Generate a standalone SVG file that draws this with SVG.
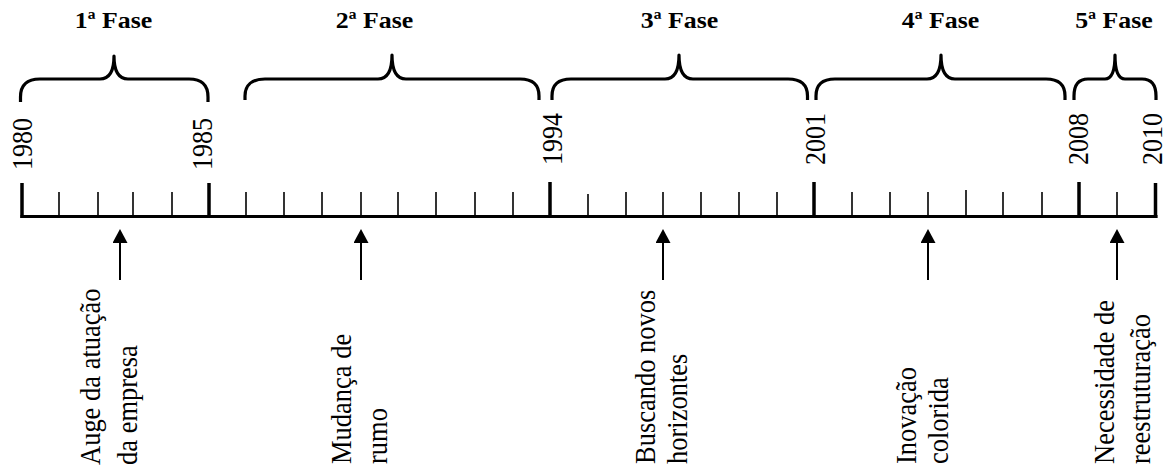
<svg xmlns="http://www.w3.org/2000/svg" width="1168" height="470" viewBox="0 0 1168 470">
  <style>
    .phase { font-family: "Liberation Serif", "Times New Roman", serif; font-weight: bold; font-size: 23.5px; fill: #000; text-anchor: middle; }
    .year { font-family: "Liberation Serif", "Times New Roman", serif; font-size: 26px; fill: #000; }
    .event { font-family: "Liberation Serif", "Times New Roman", serif; font-size: 26.5px; fill: #000; }
    .brace { fill: none; stroke: #000; stroke-width: 3.2; stroke-linecap: butt; stroke-linejoin: round; }
    .axis { fill: none; stroke: #000; stroke-width: 3; }
    .major { stroke: #000; stroke-width: 3.5; }
    .minor { stroke: #000; stroke-width: 1.6; }
    .arrow { stroke: #000; stroke-width: 2; fill: none; }
  </style>
  <defs>
    <marker id="ah" markerUnits="userSpaceOnUse" markerWidth="15" markerHeight="16" refX="0" refY="7.5" orient="auto">
      <path d="M0,0 L14,7.5 L0,15 Z" fill="#000"/>
    </marker>
  </defs>
  <rect width="1168" height="470" fill="#fff"/>

  <g id="timeline">
    <line class="axis" x1="20.5" y1="216.5" x2="1157.5" y2="216.5"/>
    <g id="major-ticks">
      <line class="major" x1="22" y1="183" x2="22" y2="218"/>
      <line class="major" x1="209" y1="183" x2="209" y2="218"/>
      <line class="major" x1="550" y1="182" x2="550" y2="218"/>
      <line class="major" x1="814" y1="182" x2="814" y2="218"/>
      <line class="major" x1="1079" y1="182" x2="1079" y2="218"/>
      <line class="major" x1="1155.5" y1="183" x2="1155.5" y2="218"/>
    </g>
    <g id="minor-ticks">
      <line class="minor" x1="59" y1="192" x2="59" y2="216"/>
      <line class="minor" x1="98" y1="192" x2="98" y2="216"/>
      <line class="minor" x1="133" y1="192" x2="133" y2="216"/>
      <line class="minor" x1="172" y1="192" x2="172" y2="216"/>
      <line class="minor" x1="246" y1="192" x2="246" y2="216"/>
      <line class="minor" x1="284" y1="192" x2="284" y2="216"/>
      <line class="minor" x1="322" y1="192" x2="322" y2="216"/>
      <line class="minor" x1="361" y1="192" x2="361" y2="216"/>
      <line class="minor" x1="398" y1="192" x2="398" y2="216"/>
      <line class="minor" x1="436" y1="192" x2="436" y2="216"/>
      <line class="minor" x1="475" y1="192" x2="475" y2="216"/>
      <line class="minor" x1="513" y1="192" x2="513" y2="216"/>
      <line class="minor" x1="588" y1="194" x2="588" y2="216"/>
      <line class="minor" x1="626" y1="192" x2="626" y2="216"/>
      <line class="minor" x1="663" y1="192" x2="663" y2="216"/>
      <line class="minor" x1="701" y1="192" x2="701" y2="216"/>
      <line class="minor" x1="739" y1="192" x2="739" y2="216"/>
      <line class="minor" x1="777" y1="192" x2="777" y2="216"/>
      <line class="minor" x1="852" y1="192" x2="852" y2="216"/>
      <line class="minor" x1="890" y1="192" x2="890" y2="216"/>
      <line class="minor" x1="928" y1="192" x2="928" y2="216"/>
      <line class="minor" x1="966" y1="190" x2="966" y2="216"/>
      <line class="minor" x1="1003" y1="192" x2="1003" y2="216"/>
      <line class="minor" x1="1042" y1="192" x2="1042" y2="216"/>
      <line class="minor" x1="1117" y1="192" x2="1117" y2="216"/>
    </g>
  </g>

  <g id="years">
    <text id="y1980" class="year" transform="translate(32,170) scale(1.12,1) rotate(-90)">1980</text>
    <text id="y1985" class="year" transform="translate(212,170) scale(1.12,1) rotate(-90)">1985</text>
    <text id="y1994" class="year" transform="translate(561.5,165) scale(1.12,1) rotate(-90)">1994</text>
    <text id="y2001" class="year" transform="translate(825,165) scale(1.12,1) rotate(-90)">2001</text>
    <text id="y2008" class="year" transform="translate(1088,165) scale(1.12,1) rotate(-90)">2008</text>
    <text id="y2010" class="year" transform="translate(1162,165) scale(1.12,1) rotate(-90)">2010</text>
  </g>

  <g id="phase1">
    <path class="brace" d="M20.5,102 L20.5,97 C20.5,85 27,79 40,79 L100,79 Q114,79 114,56 Q114,79 128,79 L189,79 C202,79 208,85 208,97 L208,102"/>
    <text class="phase" transform="translate(113.5,28) scale(1.1,1)">1ª Fase</text>
  </g>
  <g id="phase2">
    <path class="brace" d="M245,100 L245,96 C245,85 252,79 265,79 L378,79 Q392,79 392,55 Q392,79 406,79 L520,79 C533,79 539,85 539,96 L539,100"/>
    <text class="phase" transform="translate(374.5,28) scale(1.1,1)">2ª Fase</text>
  </g>
  <g id="phase3">
    <path class="brace" d="M552,100 L552,96 C552,85 558,79 571,79 L665,79 Q679,79 679,55 Q679,79 693,79 L788,79 C801,79 807.5,85 807.5,96 L807.5,100"/>
    <text class="phase" transform="translate(679.5,28) scale(1.1,1)">3ª Fase</text>
  </g>
  <g id="phase4">
    <path class="brace" d="M816,100 L816,96 C816,85 822,79 835,79 L927,79 Q941,79 941,55 Q941,79 955,79 L1046,79 C1059,79 1065,85 1065,96 L1065,100"/>
    <text class="phase" transform="translate(940.5,28) scale(1.1,1)">4ª Fase</text>
  </g>
  <g id="phase5">
    <path class="brace" d="M1074,100 L1074,96 C1074,85 1078,79 1088,79 L1105,79 Q1115,79 1115,55 Q1115,79 1125,79 L1142,79 C1152,79 1156,85 1156,96 L1156,100"/>
    <text class="phase" transform="translate(1114,28) scale(1.1,1)">5ª Fase</text>
  </g>

  <g id="event1">
    <text class="event" transform="translate(100,465) scale(1.12,1) rotate(-90)">Auge da atuação</text>
    <text class="event" transform="translate(137,465) scale(1.12,1) rotate(-90)">da empresa</text>
  </g>
  <g id="event2">
    <text class="event" transform="translate(351,464) scale(1.12,1) rotate(-90)">Mudança de</text>
    <text class="event" transform="translate(387,464) scale(1.12,1) rotate(-90)">rumo</text>
  </g>
  <g id="event3">
    <text class="event" transform="translate(655,464) scale(1.12,1) rotate(-90)">Buscando novos</text>
    <text class="event" transform="translate(687,464) scale(1.12,1) rotate(-90)">horizontes</text>
  </g>
  <g id="event4">
    <text class="event" transform="translate(916,464) scale(1.12,1) rotate(-90)">Inovação</text>
    <text class="event" transform="translate(948,464) scale(1.12,1) rotate(-90)">colorida</text>
  </g>
  <g id="event5">
    <text class="event" transform="translate(1114,464) scale(1.12,1) rotate(-90)">Necessidade de</text>
    <text class="event" transform="translate(1150,464) scale(1.12,1) rotate(-90)">reestruturação</text>
  </g>

  <g id="connectors">
    <line class="arrow" x1="120" y1="280" x2="120" y2="243" marker-end="url(#ah)"/>
    <line class="arrow" x1="361" y1="280" x2="361" y2="243" marker-end="url(#ah)"/>
    <line class="arrow" x1="663" y1="280" x2="663" y2="243" marker-end="url(#ah)"/>
    <line class="arrow" x1="928" y1="280" x2="928" y2="243" marker-end="url(#ah)"/>
    <line class="arrow" x1="1117" y1="280" x2="1117" y2="243" marker-end="url(#ah)"/>
  </g>
</svg>
